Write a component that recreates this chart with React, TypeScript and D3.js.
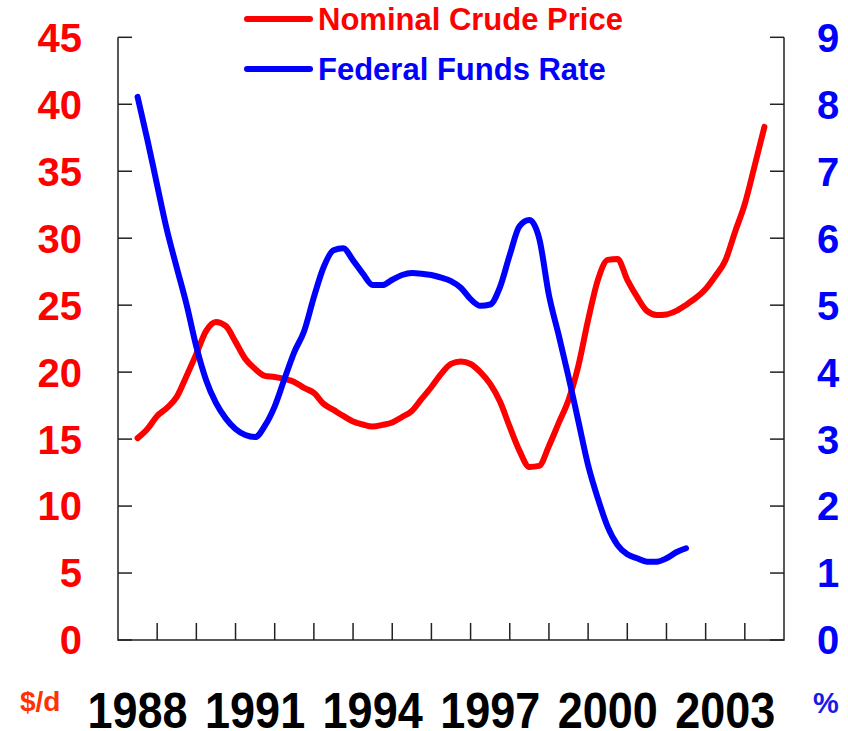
import React, { useEffect, useRef } from "react";
import * as d3 from "d3";

// quarterly observations, mid-1988 onwards
const crudeYears = d3.range(0, 65).map((i) => 1988.5 + i * 0.25);
const crudePrice = [
  15.07, 15.76, 16.73, 17.33, 18.15, 19.72, 21.36, 23.08, 23.75, 23.45, 22.26, 20.99, 20.24,
  19.72, 19.64, 19.49, 19.27, 18.82, 18.45, 17.63, 17.18, 16.73, 16.32, 16.09, 15.94, 16.06,
  16.24, 16.65, 17.1, 18.0, 18.89, 19.87, 20.61, 20.8, 20.61, 20.0, 19.12, 17.8, 15.91, 14.12,
  12.92, 13.0, 14.49, 16.21, 17.92, 20.46, 23.9, 26.89, 28.38, 28.45, 26.89, 25.62, 24.57,
  24.27, 24.31, 24.57, 25.02, 25.54, 26.21, 27.18, 28.31, 30.47, 32.56, 35.4, 38.31,
];
const fedYears = d3.range(0, 57).map((i) => 1988.5 + i * 0.25);
const fedRate = [
  8.11, 7.47, 6.79, 6.12, 5.56, 5.01, 4.38, 3.88, 3.54, 3.31, 3.15, 3.06, 3.03, 3.2, 3.49, 3.9,
  4.3, 4.61, 5.12, 5.57, 5.82, 5.85, 5.67, 5.47, 5.3, 5.3, 5.38, 5.45, 5.48, 5.47, 5.45, 5.41,
  5.36, 5.26, 5.09, 4.99, 5.01, 5.27, 5.75, 6.18, 6.27, 6.0, 5.15, 4.55, 3.93, 3.27, 2.61,
  2.11, 1.69, 1.42, 1.28, 1.22, 1.17, 1.17, 1.22, 1.31, 1.37,
];
const yearLabels = [1988, 1991, 1994, 1997, 2000, 2003];
const priceTicks = [0, 5, 10, 15, 20, 25, 30, 35, 40, 45];
const rateTicks = [0, 1, 2, 3, 4, 5, 6, 7, 8, 9];
const seriesNames = ["Nominal Crude Price", "Federal Funds Rate"];

export default function App() {
  const ref = useRef<SVGSVGElement>(null);

  useEffect(() => {
    const width = 848;
    const height = 731;
    const left = 118, right = 784, top = 37.3, bottom = 640;
    const font = "'Liberation Sans', Arial, sans-serif";

    const svg = d3.select(ref.current);
    svg.selectAll("*").remove();
    svg.attr("width", width).attr("height", height);

    const x = d3.scaleLinear().domain([1988, 2005]).range([left, right]);
    const yL = d3.scaleLinear().domain([0, 45]).range([bottom, top]);
    const yR = d3.scaleLinear().domain([0, 9]).range([bottom, top]);

    // axes
    const ax = svg.append("g").attr("stroke", "#222").attr("stroke-width", 1.5).attr("fill", "none");
    ax.append("path").attr("d", `M${left},${top}V${bottom}H${right}V${top}`);
    priceTicks.forEach((t) => {
      ax.append("line").attr("x1", left).attr("x2", left + 14).attr("y1", yL(t)).attr("y2", yL(t));
    });
    rateTicks.forEach((t) => {
      ax.append("line").attr("x1", right - 14).attr("x2", right).attr("y1", yR(t)).attr("y2", yR(t));
    });
    d3.range(1989, 2005).forEach((yr) => {
      ax.append("line").attr("x1", x(yr)).attr("x2", x(yr)).attr("y1", bottom - 17).attr("y2", bottom);
    });

    // tick labels
    svg.append("g").selectAll("text").data(priceTicks).join("text")
      .attr("x", 82).attr("y", (d) => yL(d)).attr("dy", "0.36em")
      .attr("text-anchor", "end").attr("fill", "#ff0000")
      .attr("font-family", font).attr("font-weight", "bold").attr("font-size", 40)
      .text((d) => d);

    svg.append("g").selectAll("text").data(rateTicks).join("text")
      .attr("x", 817).attr("y", (d) => yR(d)).attr("dy", "0.36em")
      .attr("text-anchor", "start").attr("fill", "#0000ff")
      .attr("font-family", font).attr("font-weight", "bold").attr("font-size", 40)
      .text((d) => d);

    // year labels are a little taller than the plain font, so stretch them
    svg.append("g").attr("transform", "translate(0,728) scale(1,1.1)")
      .selectAll("text").data(yearLabels).join("text")
      .attr("x", (d) => x(d + 0.5)).attr("y", 0)
      .attr("text-anchor", "middle").attr("fill", "#000")
      .attr("font-family", font).attr("font-weight", "bold").attr("font-size", 45)
      .text((d) => d);

    svg.append("text").attr("x", 20).attr("y", 711)
      .attr("fill", "#ff3300").attr("font-family", font).attr("font-weight", "bold").attr("font-size", 28)
      .text("$/d");
    svg.append("text").attr("x", 813).attr("y", 713)
      .attr("fill", "#1a1ae6").attr("font-family", font).attr("font-weight", "bold").attr("font-size", 29)
      .text("%");

    // lines
    const crude = d3.line<number>()
      .x((_, i) => x(crudeYears[i])).y((d) => yL(d)).curve(d3.curveMonotoneX);
    const fed = d3.line<number>()
      .x((_, i) => x(fedYears[i])).y((d) => yR(d)).curve(d3.curveMonotoneX);

    svg.append("path").datum(crudePrice).attr("d", crude)
      .attr("fill", "none").attr("stroke", "#ff0000").attr("stroke-width", 6)
      .attr("stroke-linecap", "round").attr("stroke-linejoin", "round");
    svg.append("path").datum(fedRate).attr("d", fed)
      .attr("fill", "none").attr("stroke", "#0000ff").attr("stroke-width", 6)
      .attr("stroke-linecap", "round").attr("stroke-linejoin", "round");

    // legend
    const colors = ["#ff0000", "#0000ff"];
    const lg = svg.append("g");
    seriesNames.forEach((name, i) => {
      const ly = 19 + i * 50;
      lg.append("line").attr("x1", 247).attr("x2", 310).attr("y1", ly).attr("y2", ly)
        .attr("stroke", colors[i]).attr("stroke-width", 6).attr("stroke-linecap", "round");
      lg.append("text").attr("x", 318).attr("y", ly).attr("dy", "0.36em")
        .attr("fill", colors[i]).attr("font-family", font).attr("font-weight", "bold").attr("font-size", 31)
        .text(name);
    });
  }, []);

  return <svg ref={ref} style={{ position: "absolute", left: 0, top: 0 }}></svg>;
}
